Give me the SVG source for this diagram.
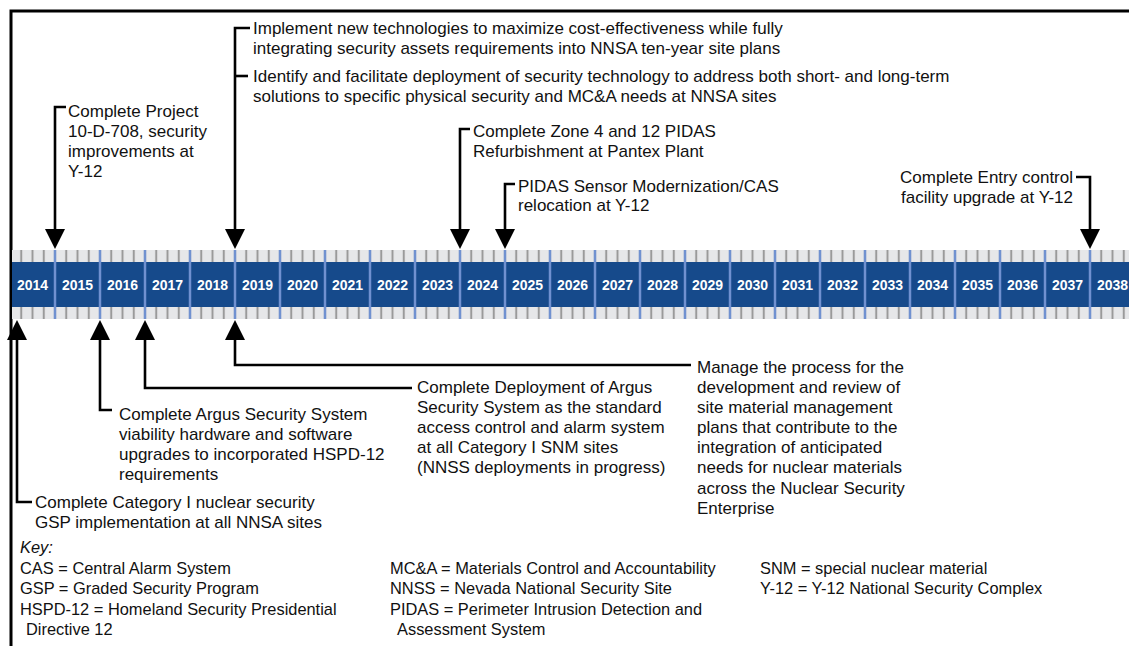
<svg xmlns="http://www.w3.org/2000/svg" width="1129" height="646" viewBox="0 0 1129 646">
<defs>
<style>
.lbl{font-family:"Liberation Sans",Arial,sans-serif;font-size:17px;fill:#111}
.key{font-family:"Liberation Sans",Arial,sans-serif;font-size:16.4px;fill:#111}
.yr{font-family:"Liberation Sans",Arial,sans-serif;font-size:14px;font-weight:bold;fill:#fff;text-anchor:middle}
.con{fill:none;stroke:#000;stroke-width:2.6;marker-end:url(#ah)}
.div{stroke:#7091d0;stroke-width:2.5}
</style>
<marker id="ah" viewBox="0 0 20 20" refX="0" refY="10" markerWidth="20" markerHeight="20" markerUnits="userSpaceOnUse" orient="auto">
<path d="M0,0 L20,10 L0,20 Z" fill="#000"/>
</marker>
<pattern id="ticks" patternUnits="userSpaceOnUse" x="49.375" y="0" width="11.25" height="646">
<rect x="0" y="0" width="11.25" height="646" fill="#e6e7e9"/>
<line x1="5.625" y1="0" x2="5.625" y2="646" stroke="#9a9a9a" stroke-width="2"/>
</pattern>
</defs>
<rect width="1129" height="646" fill="#fff"/>
<path d="M11,646 V11 H1129" fill="none" stroke="#000" stroke-width="3"/>

<g id="timeline">
<rect x="12" y="250" width="1117" height="69" fill="url(#ticks)"/>
<rect x="12" y="262" width="1117" height="45" fill="#164a8b"/>
<g class="div">
<line x1="55" y1="250" x2="55" y2="319"/><line x1="100" y1="250" x2="100" y2="319"/><line x1="145" y1="250" x2="145" y2="319"/><line x1="190" y1="250" x2="190" y2="319"/><line x1="235" y1="250" x2="235" y2="319"/><line x1="280" y1="250" x2="280" y2="319"/><line x1="325" y1="250" x2="325" y2="319"/><line x1="370" y1="250" x2="370" y2="319"/><line x1="415" y1="250" x2="415" y2="319"/><line x1="460" y1="250" x2="460" y2="319"/><line x1="505" y1="250" x2="505" y2="319"/><line x1="550" y1="250" x2="550" y2="319"/><line x1="595" y1="250" x2="595" y2="319"/><line x1="640" y1="250" x2="640" y2="319"/><line x1="685" y1="250" x2="685" y2="319"/><line x1="730" y1="250" x2="730" y2="319"/><line x1="775" y1="250" x2="775" y2="319"/><line x1="820" y1="250" x2="820" y2="319"/><line x1="865" y1="250" x2="865" y2="319"/><line x1="910" y1="250" x2="910" y2="319"/><line x1="955" y1="250" x2="955" y2="319"/><line x1="1000" y1="250" x2="1000" y2="319"/><line x1="1045" y1="250" x2="1045" y2="319"/><line x1="1090" y1="250" x2="1090" y2="319"/>
</g>
<g class="yr">
<text x="32.5" y="290">2014</text><text x="77.5" y="290">2015</text><text x="122.5" y="290">2016</text><text x="167.5" y="290">2017</text><text x="212.5" y="290">2018</text><text x="257.5" y="290">2019</text><text x="302.5" y="290">2020</text><text x="347.5" y="290">2021</text><text x="392.5" y="290">2022</text><text x="437.5" y="290">2023</text><text x="482.5" y="290">2024</text><text x="527.5" y="290">2025</text><text x="572.5" y="290">2026</text><text x="617.5" y="290">2027</text><text x="662.5" y="290">2028</text><text x="707.5" y="290">2029</text><text x="752.5" y="290">2030</text><text x="797.5" y="290">2031</text><text x="842.5" y="290">2032</text><text x="887.5" y="290">2033</text><text x="932.5" y="290">2034</text><text x="977.5" y="290">2035</text><text x="1022.5" y="290">2036</text><text x="1067.5" y="290">2037</text><text x="1112.5" y="290">2038</text>
</g>
</g>

<g id="connectors">
<path class="con" d="M66,107 H55 V229"/>
<path class="con" d="M250,28 H235 V229"/>
<path d="M235,76 H248" fill="none" stroke="#000" stroke-width="2.6"/>
<path class="con" d="M470,129 H460 V229"/>
<path class="con" d="M515,184 H505 V229"/>
<path class="con" d="M1076,177 H1090 V229"/>
<path class="con" d="M32,502 H17 V340"/>
<path class="con" d="M112,410 H100 V340"/>
<path class="con" d="M412,388 H145 V340"/>
<path class="con" d="M691,365 H235 V340"/>
</g>

<g id="n-project" class="lbl">
<text x="68" y="117">Complete Project</text>
<text x="68" y="137">10-D-708, security</text>
<text x="68" y="157">improvements at</text>
<text x="68" y="177">Y-12</text>
</g>
<g id="n-implement" class="lbl">
<text x="253" y="34">Implement new technologies to maximize cost-effectiveness while fully</text>
<text x="253" y="54">integrating security assets requirements into NNSA ten-year site plans</text>
</g>
<g id="n-identify" class="lbl">
<text x="253" y="82">Identify and facilitate deployment of security technology to address both short- and long-term</text>
<text x="253" y="102">solutions to specific physical security and MC&amp;A needs at NNSA sites</text>
</g>
<g id="n-zone" class="lbl">
<text x="473" y="137">Complete Zone 4 and 12 PIDAS</text>
<text x="473" y="157">Refurbishment at Pantex Plant</text>
</g>
<g id="n-pidas" class="lbl">
<text x="518" y="192">PIDAS Sensor Modernization/CAS</text>
<text x="518" y="211">relocation at Y-12</text>
</g>
<g id="n-entry" class="lbl" text-anchor="end">
<text x="1073" y="183">Complete Entry control</text>
<text x="1073" y="203">facility upgrade at Y-12</text>
</g>
<g id="n-category" class="lbl">
<text x="35" y="508">Complete Category I nuclear security</text>
<text x="35" y="528">GSP implementation at all NNSA sites</text>
</g>
<g id="n-argus" class="lbl">
<text x="119" y="420">Complete Argus Security System</text>
<text x="119" y="440">viability hardware and software</text>
<text x="119" y="460">upgrades to incorporated HSPD-12</text>
<text x="119" y="480">requirements</text>
</g>
<g id="n-deploy" class="lbl">
<text x="417" y="393">Complete Deployment of Argus</text>
<text x="417" y="413">Security System as the standard</text>
<text x="417" y="433">access control and alarm system</text>
<text x="417" y="453">at all Category I SNM sites</text>
<text x="417" y="473">(NNSS deployments in progress)</text>
</g>
<g id="n-manage" class="lbl">
<text x="697" y="373">Manage the process for the</text>
<text x="697" y="393">development and review of</text>
<text x="697" y="413">site material management</text>
<text x="697" y="433">plans that contribute to the</text>
<text x="697" y="453">integration of anticipated</text>
<text x="697" y="473">needs for nuclear materials</text>
<text x="697" y="494">across the Nuclear Security</text>
<text x="697" y="514">Enterprise</text>
</g>

<g id="key" class="key">
<text x="20" y="553" font-style="italic">Key:</text>
<text x="20" y="574">CAS = Central Alarm System</text>
<text x="20" y="594">GSP = Graded Security Program</text>
<text x="20" y="615">HSPD-12 = Homeland Security Presidential</text>
<text x="26" y="635">Directive 12</text>
<text x="390" y="574">MC&amp;A = Materials Control and Accountability</text>
<text x="390" y="594">NNSS = Nevada National Security Site</text>
<text x="390" y="615">PIDAS = Perimeter Intrusion Detection and</text>
<text x="397" y="635">Assessment System</text>
<text x="760" y="574">SNM = special nuclear material</text>
<text x="760" y="594">Y-12 = Y-12 National Security Complex</text>
</g>
</svg>
